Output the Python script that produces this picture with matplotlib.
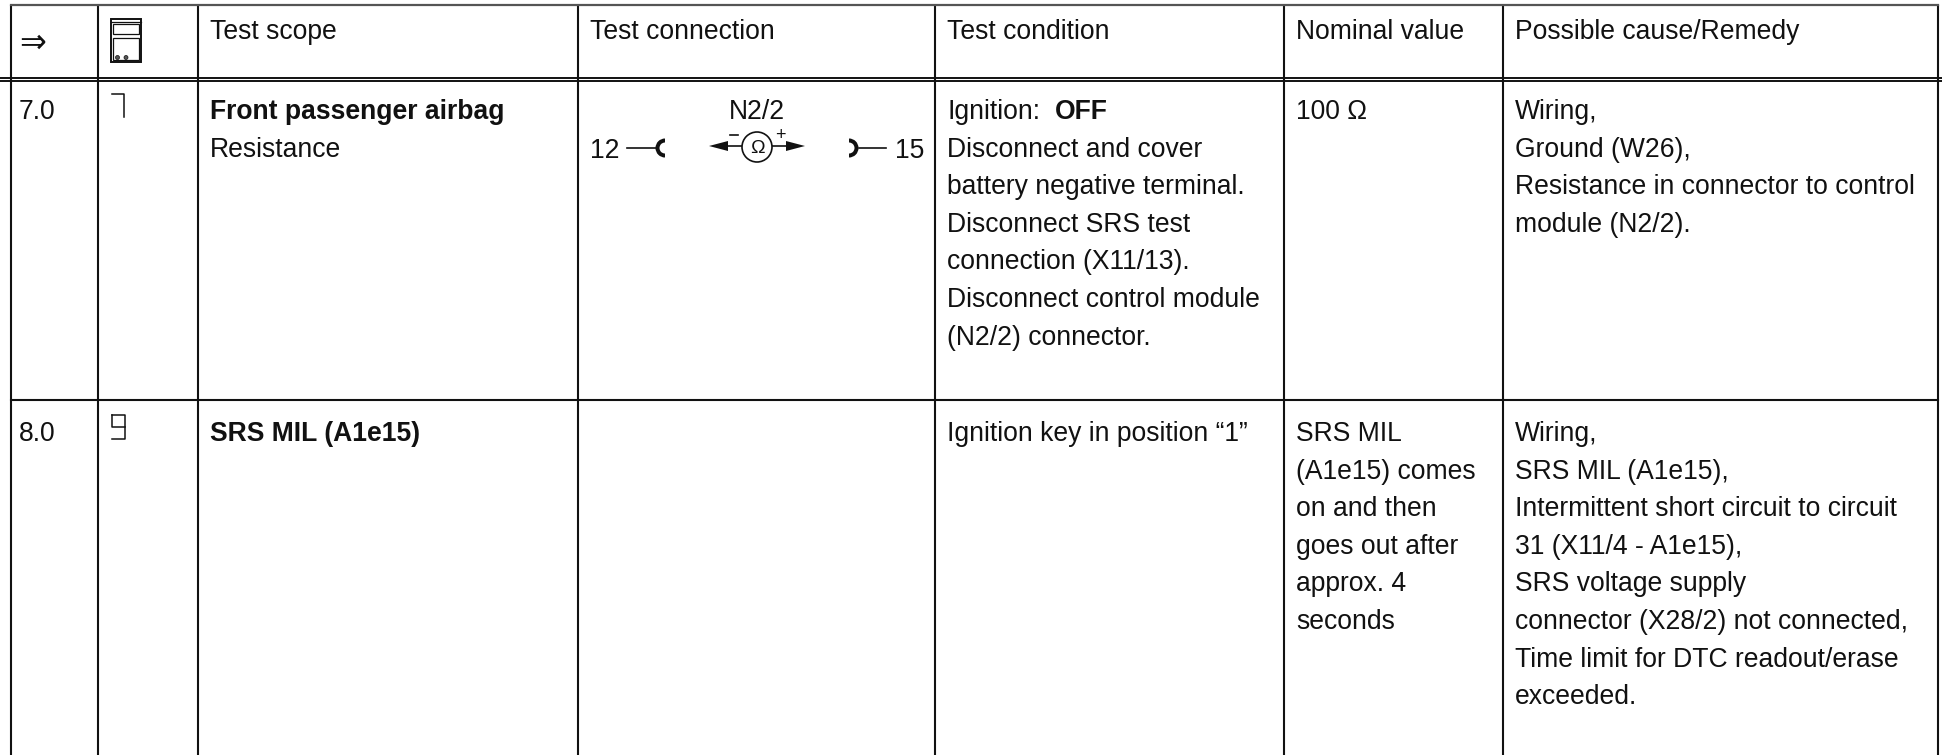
import matplotlib
matplotlib.use("Agg")
import matplotlib.pyplot as plt
from matplotlib.patches import Circle, Polygon, Rectangle, Wedge

plt.rcParams['font.family'] = ['Liberation Sans', 'DejaVu Sans']

column_edges = [11, 98, 198, 578, 935, 1284, 1503, 1938]
header_labels = ["Test scope", "Test connection", "Test condition", "Nominal value", "Possible cause/Remedy"]
header_columns = [2, 3, 4, 5, 6]

row7_number = "7.0"
row8_number = "8.0"
row7_title = "Front passenger airbag"
row7_scope = "Resistance"
row8_title = "SRS MIL (A1e15)"
row7_condition = ["Disconnect and cover", "battery negative terminal.", "Disconnect SRS test",
                  "connection (X11/13).", "Disconnect control module", "(N2/2) connector."]
row7_nominal = "100 Ω"
row7_cause = ["Wiring,", "Ground (W26),", "Resistance in connector to control", "module (N2/2)."]
row8_condition = "Ignition key in position “1”"
row8_nominal = ["SRS MIL", "(A1e15) comes", "on and then", "goes out after", "approx. 4", "seconds"]
row8_cause = ["Wiring,", "SRS MIL (A1e15),", "Intermittent short circuit to circuit", "31 (X11/4 - A1e15),",
              "SRS voltage supply", "connector (X28/2) not connected,", "Time limit for DTC readout/erase", "exceeded."]

FS = 19.1
PAD = 12
LEAD = 37.6
Y_HEAD, Y_R7, Y_R8 = 39, 119, 441

fig = plt.figure(figsize=(19.42, 7.55), dpi=100)
ax = fig.add_axes([0, 0, 1, 1])
ax.set_xlim(0, 1942)
ax.set_ylim(755, 0)
ax.axis('off')
K = '#111111'

def txt(x, y, s, **kw):
    ax.text(x, y, s, fontsize=kw.pop('fontsize', FS), color=K, va='baseline', **kw)

def block(col, y, lines):
    for i, s in enumerate(lines):
        txt(column_edges[col] + PAD, y + i * LEAD, s)

# grid
for x in column_edges:
    ax.plot([x, x], [5, 755], color=K, lw=1.5, solid_capstyle='butt')
ax.plot([11, 1938], [5, 5], color='#555555', lw=1.6)
ax.plot([0, 1942], [78, 78], color=K, lw=1.4)
ax.plot([0, 1942], [81, 81], color=K, lw=1.4)
ax.plot([11, 1938], [399.5, 399.5], color=K, lw=1.5)

# header
txt(19, 52, "⇒", family='DejaVu Sans', fontsize=23)
for col, s in zip(header_columns, header_labels):
    txt(column_edges[col] + PAD, Y_HEAD, s)

# tester icon
ax.add_patch(Rectangle((111, 19), 30, 43, fc='white', ec=K, lw=1.4))
ax.plot([111, 141], [22, 22], color=K, lw=0.9)
ax.add_patch(Rectangle((113, 24), 26, 10, fc='white', ec=K, lw=0.9))
ax.add_patch(Rectangle((113, 38), 26, 22, fc='white', ec=K, lw=0.9))
for cx in (117.5, 126):
    ax.add_patch(Circle((cx, 57.5), 2, fc='#555555', ec=K, lw=0.5))

# row numbers
txt(19, Y_R7, row7_number)
txt(19, Y_R8, row8_number)

# segment digits
ax.plot([112, 124, 124], [94, 94, 117], color=K, lw=1.1)
ax.plot([112, 125, 125, 112], [415, 415, 439, 439], color=K, lw=1.1)
ax.plot([112, 112, 125], [415, 427, 427], color=K, lw=1.1)

# row 7 text
txt(column_edges[2] + PAD, Y_R7, row7_title, fontweight='bold')
txt(column_edges[2] + PAD, Y_R7 + 38, row7_scope)
txt(column_edges[4] + PAD, Y_R7, "Ignition:")
txt(column_edges[4] + 120, Y_R7, "OFF", fontweight='bold')
block(4, Y_R7 + LEAD, row7_condition)
txt(column_edges[5] + PAD, Y_R7, row7_nominal)
block(6, Y_R7, row7_cause)

# row 8 text
txt(column_edges[2] + PAD, Y_R8, row8_title, fontweight='bold')
txt(column_edges[4] + PAD, Y_R8, row8_condition)
block(5, Y_R8, row8_nominal)
block(6, Y_R8, row8_cause)

# connection diagram
txt(757, 119, "N2/2", ha='center')
txt(590, 158, "12")
txt(895, 158, "15")
ax.plot([627, 656], [148, 148], color=K, lw=1.2)
ax.plot([859, 886], [148, 148], color=K, lw=1.2)
ax.add_patch(Wedge((665, 148), 9.5, 90, 270, width=4, fc=K, ec='none'))
ax.add_patch(Wedge((849, 148), 9.5, -90, 90, width=4, fc=K, ec='none'))
ax.add_patch(Circle((757, 147), 15, fc='white', ec=K, lw=1.2, zorder=3))
ax.text(757, 153, "Ω", fontsize=14, color=K, ha='center', va='baseline', zorder=4)
ax.plot([720, 742], [146, 146], color=K, lw=1.2)
ax.plot([772, 795], [146, 146], color=K, lw=1.2)
ax.add_patch(Polygon([(709, 146), (728, 141), (728, 151)], fc=K, ec='none'))
ax.add_patch(Polygon([(805, 146), (786, 141), (786, 151)], fc=K, ec='none'))
ax.plot([730, 738], [135, 135], color=K, lw=1.2)
txt(780, 140, "+", fontsize=13, ha='center')

fig.savefig("out.png", dpi=100, facecolor='white')
